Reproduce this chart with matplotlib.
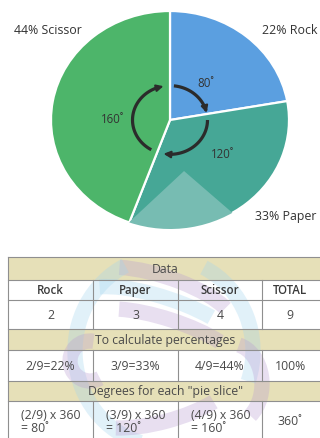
import matplotlib.pyplot as plt
import matplotlib.patches as mpatches
import numpy as np

plt.rcParams['font.family'] = ['Open Sans', 'DejaVu Sans']

# 데이터
names = ['Rock', 'Paper', 'Scissor']
counts = [2, 3, 4]
total = sum(counts)
pie_colors = ['#5b9fe0', '#46a796', '#4db56a']

pct = [round(100 * c / total) for c in counts]
deg = [round(360 * c / total) for c in counts]

# 창 크기 - 픽셀 단위
width_px = 320
height_px = 439
dpi = 100
fig = plt.figure(figsize=(width_px / dpi, height_px / dpi), dpi=dpi)
fig.patch.set_facecolor('white')

# 파이 차트 위치 (픽셀 기준)
cx, cy, rx, ry = 170, 121, 119, 109
ax = fig.add_axes([(cx - rx) / width_px, (height_px - cy - ry) / height_px,
                   2 * rx / width_px, 2 * ry / height_px])
wedges, _ = ax.pie(counts, colors=pie_colors, startangle=90, counterclock=False,
                   wedgeprops=dict(edgecolor='white', linewidth=1.6))
ax.set_aspect('auto')
ax.set_xlim(-1, 1)
ax.set_ylim(-1, 1)
ax.axis('off')

# Paper 조각 위의 밝은 삼각형
tri = mpatches.Polygon([(0.118, -0.468), (-0.75, -1.35), (0.95, -1.35), (1.0, -1.3)],
                       closed=True, facecolor='#77bcb2', edgecolor='none', zorder=2)
ax.add_patch(tri)
tri.set_clip_path(wedges[1])

# 조각 라벨
label_pos = [(1.01, 0.83), (0.97, -0.88), (-1.03, 0.83)]
for n, p, (x, y) in zip(names, pct, label_pos):
    ax.text(x, y, f'{p}% {n}', ha='center', va='center', fontsize=8.9,
            color='#333333')

# 각도 라벨
deg_pos = [(0.30, 0.34), (0.44, -0.31), (-0.48, 0.01)]
for d, (x, y) in zip(deg, deg_pos):
    ax.text(x, y, f'{d}˚', ha='center', va='center', fontsize=8.3, color='#333333')


# 회전 화살표
def draw_arc(a0, a1, r=0.315, color='#2b2b2b'):
    t = np.radians(np.linspace(a0, a1, 60))
    xs, ys = r * np.cos(t), r * np.sin(t)
    ax.plot(xs[:-3], ys[:-3], color=color, lw=2.3, solid_capstyle='butt', zorder=5)
    ax.annotate('', xy=(xs[-1], ys[-1]), xytext=(xs[-6], ys[-6]),
                arrowprops=dict(arrowstyle='-|>', color=color, lw=1.5,
                                mutation_scale=10, shrinkA=0, shrinkB=0),
                zorder=6)


draw_arc(84, 12)
draw_arc(0, -100)
draw_arc(-120, -260)

# 표
tax = fig.add_axes([0, 0, 1, 1])
tax.set_xlim(0, width_px)
tax.set_ylim(height_px, 0)
tax.axis('off')
tax.patch.set_alpha(0)

x0, x1 = 8, 321
cols = [8, 93, 178, 262, 321]
rows = [258, 281, 301, 330, 351, 382, 402, 445]
tan = '#e6e0b8'
line_c = '#8f8f8f'
txt_c = '#4a4a4a'

# 머리 띠 (황토색)
for r0, r1 in [(rows[0], rows[1]), (rows[3], rows[4]), (rows[5], rows[6])]:
    tax.add_patch(mpatches.Rectangle((x0, r0), x1 - x0, r1 - r0,
                                     facecolor=tan, edgecolor='none'))

# 배경 리본 무늬 (반투명)
purple = '#b99cd2'
sky = '#a3d5ef'
ribbons = [
    # (중심x, 중심y, 폭, 높이, 회전, 시작각, 끝각, 색)
    (160, 300, 150, 46, 18, 200, 350, purple),
    (160, 320, 160, 44, 18, 190, 340, sky),
    (165, 340, 150, 40, 18, 195, 345, purple),
    (165, 352, 180, 190, 0, 105, 245, sky),
    (165, 352, 176, 186, 0, -65, 20, sky),
    (160, 398, 150, 50, -15, 20, 160, purple),
    (232, 385, 60, 80, 0, -80, 60, purple),
    (90, 362, 40, 40, 0, 60, 280, purple),
]
for (ex, ey, w, h, ang, t0, t1, col) in ribbons:
    tax.add_patch(mpatches.Arc((ex, ey), w, h, angle=ang, theta1=t0, theta2=t1,
                               color=col, lw=11, alpha=0.32, zorder=1.5))

# 가로선
for y in rows[:-1]:
    tax.plot([x0, x1], [y, y], color=line_c, lw=0.8, zorder=2)
# 세로선
tax.plot([x0, x0], [rows[0], rows[-1]], color=line_c, lw=0.8, zorder=2)
for x in cols[1:-1]:
    for r0, r1 in [(rows[1], rows[3]), (rows[4], rows[5]), (rows[6], rows[7])]:
        tax.plot([x, x], [r0, r1], color=line_c, lw=0.8, zorder=2)

centers = [(cols[i] + cols[i + 1]) / 2 for i in range(4)]
centers[3] = 290


def mid(i):
    return (rows[i] + rows[i + 1]) / 2


fs = 8.8
tax.text(165, mid(0), 'Data', ha='center', va='center', fontsize=fs, color=txt_c, zorder=3)
for c, s in zip(centers, names + ['TOTAL']):
    tax.text(c, mid(1), s, ha='center', va='center', fontsize=8.3, color='#3a3a3a',
             fontweight='semibold', zorder=3)
for c, v in zip(centers, counts + [total]):
    tax.text(c, mid(2), str(v), ha='center', va='center', fontsize=fs, color=txt_c, zorder=3)

tax.text(165, mid(3), 'To calculate percentages', ha='center', va='center',
         fontsize=fs, color=txt_c, zorder=3)
for c, v, p in zip(centers, counts, pct):
    tax.text(c, mid(4), f'{v}/{total}={p}%', ha='center', va='center',
             fontsize=fs, color=txt_c, zorder=3)
tax.text(centers[3], mid(4), '100%', ha='center', va='center', fontsize=fs,
         color=txt_c, zorder=3)

tax.text(166, mid(5), 'Degrees for each "pie slice"', ha='center', va='center',
         fontsize=fs, color=txt_c, zorder=3)
for i, (v, d) in enumerate(zip(counts, deg)):
    tax.text(cols[i] + 13, 422, f'({v}/{total}) x 360\n= {d}˚', ha='left',
             va='center', fontsize=fs, color=txt_c, linespacing=1.05, zorder=3)
tax.text(centers[3], 422, f'{sum(deg)}˚', ha='center', va='center', fontsize=fs,
         color=txt_c, zorder=3)

fig.savefig('out.png', dpi=dpi)
